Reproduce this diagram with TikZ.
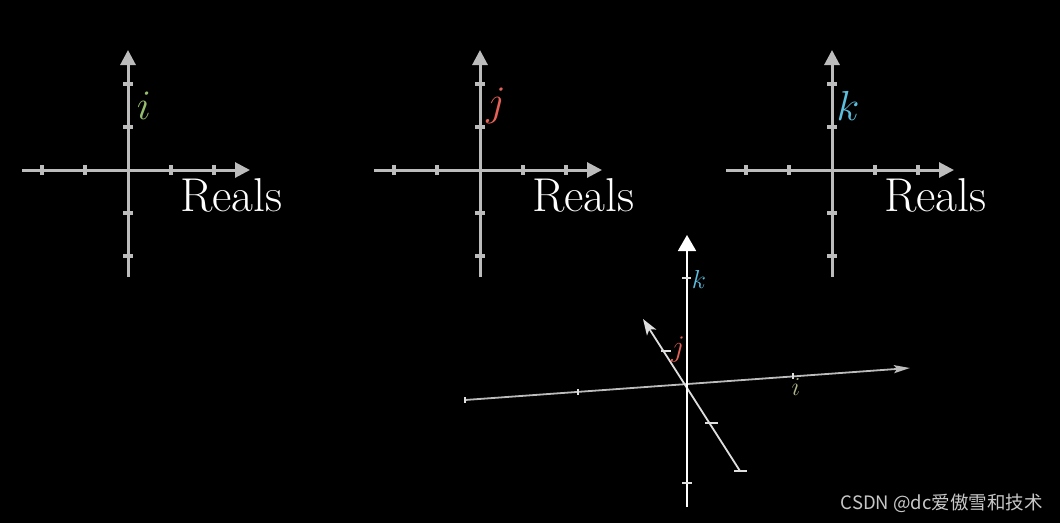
\documentclass[tikz,border=0pt]{standalone}
\usepackage{fix-cm}
\usepackage{fontspec}
\newfontfamily\cjkfont{Noto Sans CJK SC}
\usetikzlibrary{arrows.meta, positioning}
\definecolor{axisgray}{RGB}{188,188,188}
\definecolor{axislight}{RGB}{222,222,222}
\definecolor{igreen}{RGB}{150,190,110}
\definecolor{idim}{RGB}{175,182,140}
\definecolor{jred}{RGB}{230,98,88}
\definecolor{kcyan}{RGB}{92,190,222}
\definecolor{markgray}{RGB}{200,200,200}

\tikzset{
    axis/.style={draw=axisgray, line width=3pt},
    tickmark/.style={draw=axisgray, line width=4pt},
    spaceaxis/.style={draw=axislight, line width=1.8pt},
    spacetick/.style={draw=axislight, line width=1.6pt},
    panellabel/.style={inner sep=0pt, font=\fontsize{42}{42}\selectfont},
    reals/.style={inner sep=0pt, text=white, font=\fontsize{47.5}{50}\selectfont},
    spacelabel/.style={inner sep=0pt, font=\fontsize{26}{26}\selectfont}
}

\begin{document}
\begin{tikzpicture}[x=1pt, y=-1pt]
    \fill[black] (0,0) rectangle (1060,523);
    \useasboundingbox (0,0) rectangle (1060,523);

    % three complex planes
    \foreach \dx/\name/\lab/\col in {0/pi/i/igreen, 352/pj/j/jred, 704/pk/k/kcyan} {
        \coordinate (\name-o) at (128+\dx,170);
        \coordinate (\name-w) at (22+\dx,170);
        \coordinate (\name-e) at (250+\dx,170);
        \coordinate (\name-n) at (128+\dx,50);
        \coordinate (\name-s) at (128+\dx,277);
        \draw[axis, -{Triangle[length=15pt, width=15pt]}] (\name-w) -- (\name-e);
        \draw[axis, -{Triangle[length=15pt, width=15pt]}] (\name-s) -- (\name-n);
        \foreach \t in {-86,-43,43,86} {
            \draw[tickmark] ([xshift=\t pt]\name-o) ++(0,-5) -- ++(0,10);
            \draw[tickmark] ([yshift=\t pt]\name-o) ++(-5,0) -- ++(10,0);
        }
        \node[panellabel, text=\col] (\name-l) at (144+\dx,106) {$\lab$};
        \node[reals, anchor=base west] (\name-r) at (180+\dx,211) {Reals};
    }

    % quaternion space
    \coordinate (q-o) at (687,383);
    \coordinate (q-kt) at (687,235);
    \coordinate (q-kb) at (687,507);
    \coordinate (q-iw) at (465,400);
    \coordinate (q-ie) at (910,368);
    \coordinate (q-jt) at (643,319);
    \coordinate (q-jb) at (740,471);

    \draw[spaceaxis, -{Stealth[length=16pt, width=8pt, inset=3pt]}, draw=axisgray] (q-iw) -- (q-ie);
    \draw[spaceaxis, -{Stealth[length=16pt, width=11pt, inset=4pt]}] (q-jb) -- (q-jt);
    \draw[spaceaxis, -{Triangle[length=16pt, width=18pt]}, draw=white] (q-kb) -- (q-kt);

    % ticks
    \draw[spacetick] (q-jb) ++(-6,0) -- ++(13,0);
    \draw[spacetick] (712,423) ++(-7,0) -- ++(13,0);
    \draw[spacetick] (666,351) ++(-5,0) -- ++(10,0);
    \draw[spacetick] (687,278) ++(-5,0) -- ++(9,0);
    \draw[spacetick] (687,483) ++(-5,0) -- ++(10,0);
    \draw[spacetick, line width=1.2pt] (578,392) ++(0,-3) -- ++(0,6);
    \draw[spacetick, line width=1.2pt] (793,376) ++(0,-3) -- ++(0,6);
    \draw[spacetick, line width=1.2pt] (q-iw) ++(0,-3) -- ++(0,6);

    \node[spacelabel, text=kcyan] (q-k) at (699,279) {$k$};
    \node[spacelabel, text=jred, font=\fontsize{30}{30}\selectfont] (q-j) at (678,350) {$j$};
    \node[spacelabel, text=idim] (q-i) at (796,387) {$i$};

    \node[text=markgray, anchor=east, inner sep=0pt,
          font=\cjkfont\fontsize{18.5}{20}\selectfont] (mark) at (1043,503) {CSDN @dc爱傲雪和技术};
\end{tikzpicture}
\end{document}
